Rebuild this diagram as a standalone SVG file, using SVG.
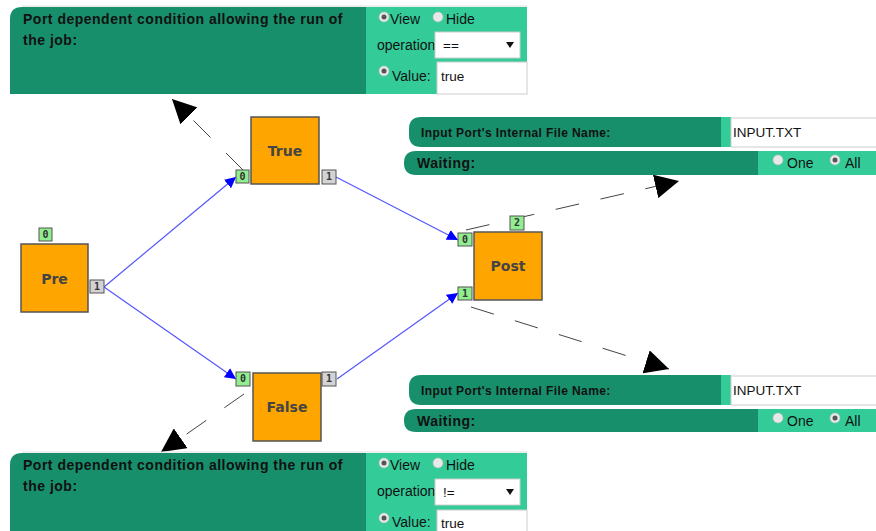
<svg xmlns="http://www.w3.org/2000/svg" width="876" height="531" viewBox="0 0 876 531">
<style>
.dk{fill:#178f6b}
.lt{fill:#33cc99}
.pt{font-family:"Liberation Sans",Arial,sans-serif;font-weight:bold;font-size:14px;letter-spacing:0.5px;fill:#111}
.st{font-family:"Liberation Sans",Arial,sans-serif;font-weight:bold;font-size:12px;letter-spacing:0.4px;fill:#111}
.ft{font-family:"Liberation Sans",Arial,sans-serif;font-size:14px;fill:#111}
.it{font-family:"Liberation Sans",Arial,sans-serif;font-size:13.5px;fill:#111}
.box{fill:#fff;stroke:#ccc;stroke-width:1}
.rad{fill:#e8e8e8;stroke:#bbb;stroke-width:0.5}
.dot{fill:#555}
.node{fill:#ffa500;stroke:#555;stroke-width:1.5}
.nt{font-family:"DejaVu Sans",Verdana,sans-serif;font-weight:bold;font-size:14px;fill:#444;text-anchor:middle}
.pin{fill:#90ee90;stroke:#555;stroke-width:1}
.pout{fill:#d3d3d3;stroke:#555;stroke-width:1}
.pn{font-family:"DejaVu Sans Mono",monospace;font-weight:bold;font-size:10px;fill:#333;text-anchor:middle}
.edge{stroke:#5555ff;stroke-width:1.2;fill:none;marker-end:url(#ab)}
.dash{stroke:#444;stroke-width:1;fill:none;stroke-dasharray:24 22;marker-end:url(#ak)}
.sh{fill:none;stroke:#ddd;stroke-width:1}
</style>
<defs>
<marker id="ab" viewBox="0 0 10 10" refX="10" refY="5" markerWidth="11" markerHeight="11" markerUnits="userSpaceOnUse" orient="auto"><path d="M0,0 L10,5 L0,10 z" fill="#0000ff"/></marker>
<marker id="ak" viewBox="0 0 20 20" refX="20" refY="10" markerWidth="24" markerHeight="24" markerUnits="userSpaceOnUse" orient="auto"><path d="M0,0 L20,10 L0,20 z" fill="#000"/></marker>
</defs>

<g id="connectors">
<line class="edge" x1="104" y1="287" x2="236" y2="177"/>
<line class="edge" x1="104" y1="287" x2="236" y2="379"/>
<line class="edge" x1="336" y1="177" x2="458" y2="240"/>
<line class="edge" x1="337" y1="379" x2="458" y2="293"/>
<line class="dash" x1="243" y1="170" x2="172" y2="99"/>
<line class="dash" x1="466" y1="230" x2="679" y2="181"/>
<line class="dash" x1="471" y1="307" x2="669" y2="369"/>
<line class="dash" x1="244" y1="394" x2="161" y2="452"/>
</g>

<g id="node-pre">
<rect class="node" x="21" y="244" width="67" height="68"/>
<text class="nt" x="54.5" y="284">Pre</text>
<rect class="pin" x="39" y="228" width="13" height="13"/><text class="pn" x="45.5" y="238">0</text>
<rect class="pout" x="90" y="280" width="14" height="13"/><text class="pn" x="97" y="290">1</text>
</g>
<g id="node-true">
<rect class="node" x="251" y="117" width="68" height="67"/>
<text class="nt" x="285" y="156">True</text>
<rect class="pin" x="236" y="170" width="13" height="13"/><text class="pn" x="242.5" y="180">0</text>
<rect class="pout" x="322" y="170" width="14" height="14"/><text class="pn" x="329" y="180">1</text>
</g>
<g id="node-false">
<rect class="node" x="253" y="373" width="68" height="68"/>
<text class="nt" x="287" y="412">False</text>
<rect class="pin" x="236" y="372" width="14" height="14"/><text class="pn" x="243" y="382">0</text>
<rect class="pout" x="322" y="372" width="14" height="14"/><text class="pn" x="329" y="382">1</text>
</g>
<g id="node-post">
<rect class="node" x="474" y="232" width="68" height="68"/>
<text class="nt" x="508" y="271">Post</text>
<rect class="pin" x="458" y="233" width="14" height="13"/><text class="pn" x="465" y="243">0</text>
<rect class="pin" x="458" y="287" width="14" height="13"/><text class="pn" x="465" y="297">1</text>
<rect class="pin" x="510" y="216" width="14" height="14"/><text class="pn" x="517" y="226">2</text>
</g>

<g id="panel-true-cond">
<path class="sh" d="M22,6 H527"/>
<path class="dk" d="M22,7 H366 V94 H10 V19 Q10,7 22,7 z"/>
<rect class="lt" x="366" y="7" width="161" height="87"/>
<text class="pt" x="23" y="24">Port dependent condition allowing the run of</text>
<text class="pt" x="23" y="45">the job:</text>
<circle class="rad" cx="384" cy="17" r="5"/><circle class="dot" cx="384" cy="17" r="2.5"/>
<text class="ft" x="390" y="24">View</text>
<circle class="rad" cx="438" cy="17" r="5"/>
<text class="ft" x="446" y="24">Hide</text>
<text class="ft" x="377" y="50">operation</text>
<rect class="box" x="435" y="32" width="85" height="26"/>
<text class="it" x="443" y="50">==</text>
<path d="M506,42 L514,42 L510,48 z" fill="#111"/>
<circle class="rad" cx="384" cy="71" r="5"/><circle class="dot" cx="384" cy="71" r="2.5"/>
<text class="ft" x="392" y="81">Value:</text>
<rect class="box" x="437" y="62" width="90" height="32"/>
<text class="it" x="441" y="81">true</text>
</g>

<g id="panel-false-cond">
<path class="sh" d="M22,452 H527"/>
<path class="dk" d="M22,453 H366 V531 H10 V465 Q10,453 22,453 z"/>
<rect class="lt" x="366" y="453" width="161" height="78"/>
<text class="pt" x="23" y="470">Port dependent condition allowing the run of</text>
<text class="pt" x="23" y="491">the job:</text>
<circle class="rad" cx="384" cy="463" r="5"/><circle class="dot" cx="384" cy="463" r="2.5"/>
<text class="ft" x="390" y="470">View</text>
<circle class="rad" cx="438" cy="463" r="5"/>
<text class="ft" x="446" y="470">Hide</text>
<text class="ft" x="377" y="496">operation</text>
<rect class="box" x="435" y="479" width="85" height="26"/>
<text class="it" x="443" y="497">!=</text>
<path d="M506,489 L514,489 L510,495 z" fill="#111"/>
<circle class="rad" cx="384" cy="518" r="5"/><circle class="dot" cx="384" cy="518" r="2.5"/>
<text class="ft" x="392" y="527">Value:</text>
<rect class="box" x="437" y="510" width="90" height="30"/>
<text class="it" x="441" y="528">true</text>
</g>

<g id="panel-post-in0">
<path class="dk" d="M421,117 H721 V147 H421 Q409,147 409,135 V129 Q409,117 421,117 z"/>
<rect class="lt" x="721" y="117" width="10" height="30"/>
<rect class="box" x="731" y="118" width="150" height="29"/>
<text class="st" x="421" y="137">Input Port's Internal File Name:</text>
<text class="it" x="733" y="137">INPUT.TXT</text>
<path class="dk" d="M416,151 H758 V175 H416 Q404,175 404,163 Q404,151 416,151 z"/>
<rect class="lt" x="758" y="151" width="118" height="24"/>
<text class="pt" x="417" y="168">Waiting:</text>
<circle class="rad" cx="778" cy="160" r="5"/>
<text class="ft" x="787" y="168">One</text>
<circle class="rad" cx="835" cy="160" r="5"/><circle class="dot" cx="835" cy="160" r="2.5"/>
<text class="ft" x="845" y="168">All</text>
</g>

<g id="panel-post-in1">
<path class="dk" d="M421,375 H721 V405 H421 Q409,405 409,393 V387 Q409,375 421,375 z"/>
<rect class="lt" x="721" y="375" width="10" height="30"/>
<rect class="box" x="731" y="376" width="150" height="29"/>
<text class="st" x="421" y="395">Input Port's Internal File Name:</text>
<text class="it" x="733" y="395">INPUT.TXT</text>
<path class="dk" d="M416,409 H758 V432 H416 Q404,432 404,420.5 Q404,409 416,409 z"/>
<rect class="lt" x="758" y="409" width="118" height="23"/>
<text class="pt" x="417" y="426">Waiting:</text>
<circle class="rad" cx="778" cy="418" r="5"/>
<text class="ft" x="787" y="426">One</text>
<circle class="rad" cx="835" cy="418" r="5"/><circle class="dot" cx="835" cy="418" r="2.5"/>
<text class="ft" x="845" y="426">All</text>
</g>
</svg>
